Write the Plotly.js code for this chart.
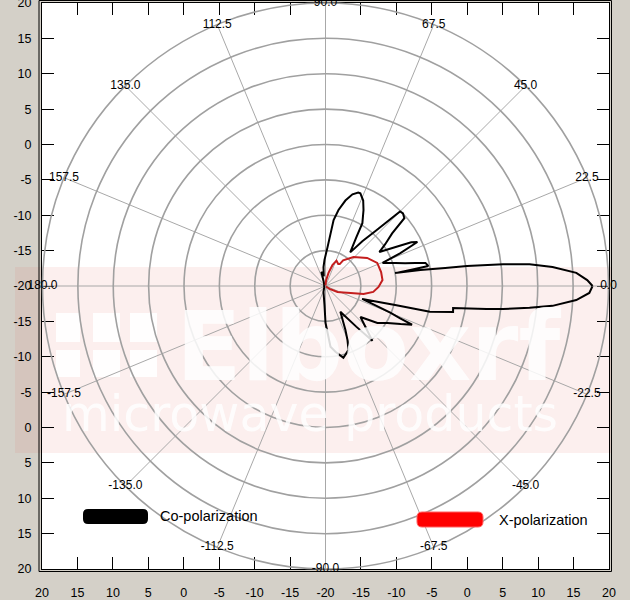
<!DOCTYPE html>
<html><head><meta charset="utf-8">
<script src="https://cdn.plot.ly/plotly-3.0.1.min.js"></script>
<style>html,body{margin:0;padding:0;background:#d4d0c8;}#chart{width:630px;height:600px;}</style>
</head><body><div id="chart"></div>
<script>
// ---- data (gain in dB vs azimuth in degrees) ----
const coTheta = [0,1.3,3.0,4.8,6.1,7.0,8.0,8.5,9.6,10.5,10.7,11.0,13.0,14.3,16.0,18.2,22.0,23.7,25.6,27.0,28.7,32.2,35.0,38.3,40.7,43.1,45.0,47.7,50.6,53.7,57.7,59.6,63.4,66.2,69.4,70.7,73.6,76.9,80.3,83.0,87.0,92.2,96.0,100,106,112,130,160,200,230,250,254,267,270,274.7,278.6,284,289.8,292.2,294.4,300,307.1,310.5,313.6,318.5,324.6,329.2,333.1,335.9,336.6,337.6,340.6,344.8,346.1,348.5,350.25,351.9,352.6,353.9,355.0,356.8,358.5,360];
const coGain  = [17.75,17.0,15.5,12.2,9.0,5.3,0.2,-2.9,-6.4,-10.0,-7.8,-5.2,-5.5,-6.9,-8.3,-9.6,-11.3,-8.5,-5.6,-6.4,-8.3,-11.0,-9.7,-8.0,-5.3,-5.0,-5.1,-9.5,-11.8,-14.1,-11.8,-9.7,-8.0,-6.8,-6.0,-6.0,-6.5,-7.6,-9.1,-10.6,-14.5,-16.3,-17.3,-18.6,-17.9,-19.3,-19.7,-19.8,-19.8,-19.7,-19.2,-19.0,-17.3,-14.8,-11.4,-10.6,-9.55,-10.4,-11.8,-13.2,-15.8,-12.8,-9.8,-11.6,-13.4,-11.0,-9.8,-8.1,-6.6,-8.5,-10.1,-14.5,-9.8,-4.8,-1.6,-1.7,3.0,5.3,9.0,12.2,15.5,17.3,17.75];
const xTheta = [-45,-35,-26.6,-20,-15.6,-12,-7,-1,6,14,24,34,46,55.5,57,60,66.5,71.6,77,84,90];
const xGain  = [-19.9,-19.3,-18.1,-17.3,-16.3,-14.5,-13.2,-12.5,-11.9,-11.9,-12.0,-12.9,-14.3,-15.6,-16.3,-16.4,-16.1,-16.9,-18.1,-19.2,-19.9];
const angleTicks = [0,22.5,45,67.5,90,112.5,135,157.5,180,202.5,225,247.5,270,292.5,315,337.5];
const axisTickVals = [-40,-35,-30,-25,-20,-15,-10,-5,0,5,10,15,20,25,30,35,40];
const seriesNames = ['Co-polarization','X-polarization'];
const watermarkTitle = 'Elboxrf';
const watermarkSub = 'microwave products';

// ---- helpers ----
const PL=42, PT=3, PW=567, PH=566;
const X = px => (px-PL)/PW;
const Y = py => (PT+PH-py)/PH;
function rr(x0,y0,x1,y1,r){
  const p=(a,b)=>X(a)+','+Y(b);
  return 'M'+p(x0+r,y0)+' L'+p(x1-r,y0)+' Q'+p(x1,y0)+' '+p(x1,y0+r)+' L'+p(x1,y1-r)+' Q'+p(x1,y1)+' '+p(x1-r,y1)+
         ' L'+p(x0+r,y1)+' Q'+p(x0,y1)+' '+p(x0,y1-r)+' L'+p(x0,y0+r)+' Q'+p(x0,y0)+' '+p(x0+r,y0)+' Z';
}
const angleLabels = angleTicks.map(a => (a>180 ? a-360 : a).toFixed(1));
const axisTickText = axisTickVals.map(v => String(Math.abs(v)-20));
const rMax = 20;

const traces = [
  {type:'scatter', x:[], y:[], showlegend:false, hoverinfo:'skip'},
  {type:'scatterpolar', r:coGain, theta:coTheta, mode:'lines', name:seriesNames[0],
   line:{color:'#000000', width:2}, showlegend:false},
  {type:'scatterpolar', r:xGain, theta:xTheta, mode:'lines', name:seriesNames[1],
   line:{color:'#c41e1e', width:2}, showlegend:false},
  {type:'scatterpolar', r:angleTicks.map(()=>rMax), theta:angleTicks, mode:'text', text:angleLabels,
   textposition:'middle center', textfont:{family:'Arial, Liberation Sans', size:12, color:'#000'},
   cliponaxis:false, showlegend:false, hoverinfo:'skip'}
];

const axisCommon = {
  range:[-40,40], tickmode:'array', tickvals:axisTickVals, ticktext:axisTickText,
  ticks:'inside', ticklen:12, tickcolor:'#000', tickwidth:1,
  showline:true, linecolor:'#000', linewidth:1, mirror:'ticks',
  showgrid:false, zeroline:false, fixedrange:true, ticklabeloverflow:'allow',
  tickfont:{family:'Arial, Liberation Sans', size:12.5, color:'#000'}
};

const shapes = [
  {type:'rect', xref:'paper', yref:'paper', x0:X(15), x1:X(611.5), y0:Y(453), y1:Y(267),
   fillcolor:'rgba(225,110,100,0.11)', line:{width:0}, layer:'below'},
  {type:'rect', xref:'paper', yref:'paper', x0:X(39), x1:X(611.5), y0:Y(571.5), y1:Y(0.5),
   fillcolor:'rgba(0,0,0,0)', line:{color:'#000', width:1}, layer:'above'},
  {type:'path', xref:'paper', yref:'paper', path:rr(83,509,148,524,5), fillcolor:'#000', line:{width:0}},
  {type:'path', xref:'paper', yref:'paper', path:rr(417,512,483,527,5), fillcolor:'#ff0000', line:{color:'#ff6060', width:1}}
];
// watermark logo blocks
[[56,80],[93,120],[130,157]].forEach(c=>{
  [[313,342],[350,377]].forEach(r=>{
    shapes.push({type:'rect', xref:'paper', yref:'paper', x0:X(c[0]), x1:X(c[1]), y0:Y(r[1]), y1:Y(r[0]),
      fillcolor:'rgba(255,255,255,0.9)', line:{width:0}, layer:'below'});
  });
});

const annotations = [
  {xref:'paper', yref:'paper', x:X(174), y:Y(347), xanchor:'left', yanchor:'middle', showarrow:false,
   text:'<b>'+watermarkTitle+'</b>', font:{family:'DejaVu Sans', size:96, color:'#ffffff'}, opacity:0.85},
  {xref:'paper', yref:'paper', x:X(60), y:Y(414), xanchor:'left', yanchor:'middle', showarrow:false,
   text:watermarkSub, font:{family:'DejaVu Sans', size:49, color:'#ffffff'}, opacity:0.85},
  {xref:'paper', yref:'paper', x:X(158), y:Y(516), xanchor:'left', yanchor:'middle', showarrow:false,
   text:seriesNames[0], font:{family:'Arial, Liberation Sans', size:14.5, color:'#000'}},
  {xref:'paper', yref:'paper', x:X(497), y:Y(520), xanchor:'left', yanchor:'middle', showarrow:false,
   text:seriesNames[1], font:{family:'Arial, Liberation Sans', size:14.5, color:'#000'}}
];

const layout = {
  width:630, height:600,
  margin:{l:PL, r:630-PL-PW, t:PT, b:600-PT-PH, pad:0},
  paper_bgcolor:'#d4d0c8', plot_bgcolor:'#ffffff',
  showlegend:false,
  xaxis:Object.assign({}, axisCommon, {ticklabelstandoff:12}),
  yaxis:Object.assign({}, axisCommon, {ticklabelstandoff:7}),
  polar:{
    domain:{x:[0,1], y:[0,1]},
    bgcolor:'rgba(0,0,0,0)',
    radialaxis:{range:[-20,20], tickmode:'linear', tick0:-20, dtick:5, showticklabels:false, ticks:'',
      showline:false, gridcolor:'#a0a0a0', gridwidth:1.6, angle:0, layer:'below traces'},
    angularaxis:{tickmode:'linear', tick0:0, dtick:22.5, showticklabels:false, ticks:'', direction:'counterclockwise',
      rotation:0, gridcolor:'#a8a8a8', gridwidth:1, showline:true, linecolor:'#a0a0a0', linewidth:1.6, layer:'below traces'}
  },
  shapes:shapes,
  annotations:annotations
};

Plotly.newPlot('chart', traces, layout, {displayModeBar:false, staticPlot:true});
</script>
</body></html>
